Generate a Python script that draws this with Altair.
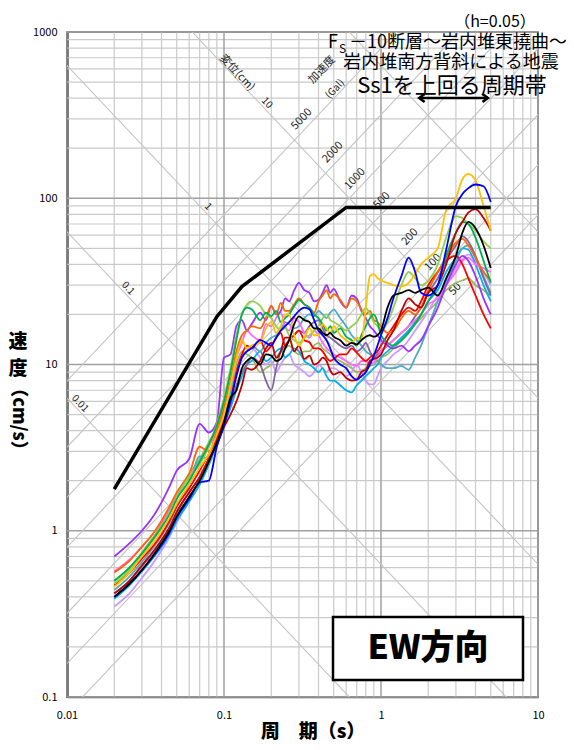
import math
import altair as alt
import pandas as pd

# ---------------- data ----------------
periods = [0.02, 0.025, 0.03, 0.035, 0.04, 0.045, 0.05,
           0.06, 0.07, 0.08, 0.09, 0.1,
           0.11, 0.12, 0.13, 0.14, 0.15, 0.17, 0.185,
           0.2, 0.215, 0.23, 0.245, 0.26, 0.28, 0.3, 0.325, 0.35, 0.375,
           0.4, 0.425, 0.45, 0.475, 0.5, 0.55, 0.6, 0.65, 0.7, 0.75,
           0.8, 0.85, 0.9, 0.95, 1.0, 1.1, 1.2, 1.35, 1.5, 1.65,
           1.8, 2.0, 2.3, 2.6, 3.0,
           3.3, 3.6, 4.0, 4.5, 5.0]

v_purple = [0.70, 0.84, 1.00, 1.20, 1.48, 1.85, 2.30,
            2.70, 4.40, 3.90, 4.50, 11.0,
            11.5, 17.0, 18.5, 16.0, 17.5, 20.5, 18.5,
            22.5, 20.0, 21.0, 25.0, 24.0, 28.0, 31.0, 28.0, 27.0, 24.0,
            24.5, 27.0, 30.0, 27.0, 28.5, 24.0, 22.0, 26.0, 25.0, 21.0,
            19.0, 17.0, 16.0, 15.0, 14.0, 13.0, 12.5, 13.0, 12.0, 13.0,
            14.0, 17.0, 22.0, 30.0, 40.0,
            45.0, 42.0, 34.0, 25.0, 20.0]
v_orange = [0.56, 0.66, 0.80, 0.95, 1.15, 1.40, 1.70,
            2.20, 3.20, 3.00, 4.00, 5.50,
            8.0, 12.0, 15.0, 16.0, 17.0, 16.5, 19.0,
            22.5, 20.0, 23.5, 21.0, 21.0, 23.0, 25.0, 23.0, 22.0, 20.5,
            24.0, 26.0, 28.0, 25.0, 26.5, 24.5, 22.0, 25.0, 24.0, 21.5,
            20.0, 21.0, 18.5, 18.0, 17.0, 15.5, 16.0, 19.0, 21.0, 20.0,
            22.0, 28.0, 36.0, 44.0, 54.0,
            57.0, 52.0, 44.0, 36.0, 32.0]
v_gold = [0.46, 0.56, 0.70, 0.83, 1.00, 1.20, 1.45,
          1.90, 2.40, 2.90, 3.80, 5.00,
          7.5, 11.0, 14.0, 12.5, 13.0, 13.5, 16.5,
          18.0, 15.5, 17.0, 20.0, 20.0, 15.0, 13.0, 14.5, 16.5, 15.0,
          15.0, 17.5, 16.5, 15.5, 17.0, 15.0, 14.0, 13.5, 14.5, 14.0,
          22.0, 34.0, 35.0, 33.0, 32.0, 31.0, 30.0, 29.5, 31.0, 35.0,
          40.0, 44.0, 50.0, 85.0, 100.0,
          130.0, 140.0, 128.0, 90.0, 64.0]
v_darkred = [0.42, 0.50, 0.62, 0.74, 0.88, 1.05, 1.30,
             1.70, 2.10, 2.70, 3.30, 4.20,
             5.0, 6.0, 7.5, 9.5, 9.3, 10.5, 12.5,
             13.5, 11.0, 12.0, 14.5, 14.5, 12.0, 13.0, 10.8, 11.3, 10.0,
             10.3, 11.0, 10.5, 9.2, 8.7, 9.0, 8.3, 8.0, 8.1, 9.0,
             9.3, 10.5, 10.8, 11.0, 11.5, 14.0, 16.0, 21.0, 25.0, 23.0,
             22.0, 27.0, 30.0, 40.0, 62.0,
             72.0, 82.0, 86.0, 76.0, 64.0]
v_black = [0.40, 0.48, 0.58, 0.70, 0.84, 1.00, 1.22,
           1.60, 2.00, 2.60, 3.40, 4.50,
           6.3, 7.0, 9.5, 10.5, 11.0, 10.0, 11.5,
           11.3, 10.5, 10.8, 12.5, 14.0, 17.5, 19.5, 18.5, 18.0, 16.5,
           16.5, 15.5, 15.0, 15.5, 14.7, 14.0, 13.0, 13.5, 13.2, 14.0,
           14.7, 15.0, 14.7, 15.0, 16.0, 22.0, 26.0, 27.0, 28.0, 27.0,
           28.0, 29.0, 26.0, 33.0, 45.0,
           62.0, 72.0, 66.0, 52.0, 38.0]
v_green = [0.50, 0.60, 0.73, 0.88, 1.05, 1.25, 1.55,
           2.00, 2.60, 3.30, 4.30, 6.00,
           9.0, 14.0, 20.0, 22.0, 21.5, 18.5, 20.5,
           19.5, 21.0, 18.0, 19.0, 20.0, 22.5, 24.5, 23.0, 22.0, 20.0,
           19.0, 17.5, 16.0, 17.0, 15.5, 16.5, 14.7, 14.0, 13.0, 15.0,
           17.0, 19.0, 20.0, 18.0, 15.0, 13.5, 13.0, 14.0, 15.5, 17.5,
           20.0, 24.0, 30.0, 45.0, 62.0,
           72.0, 70.0, 58.0, 42.0, 31.0]
v_lightgreen = [0.48, 0.58, 0.72, 0.87, 1.05, 1.28, 1.60,
                2.10, 2.50, 3.20, 4.40, 6.30,
                9.5, 15.0, 20.0, 23.0, 24.0, 22.5, 20.0,
                19.0, 17.0, 16.0, 16.5, 15.0, 14.0, 13.5, 14.5, 15.0, 16.0,
                17.0, 19.0, 20.0, 18.5, 18.0, 17.0, 16.0, 17.0, 18.0, 20.0,
                22.0, 20.0, 18.0, 17.0, 16.0, 18.0, 22.0, 30.0, 36.0, 33.0,
                30.0, 32.0, 40.0, 58.0, 78.0,
                76.0, 70.0, 64.0, 55.0, 50.0]
v_pink = [0.57, 0.67, 0.80, 0.95, 1.12, 1.35, 1.65,
          2.10, 2.60, 3.20, 4.00, 5.20,
          7.5, 11.0, 13.5, 16.0, 15.0, 14.0, 17.5,
          17.0, 19.0, 20.5, 17.0, 16.0, 19.0, 18.0, 15.5, 14.5, 16.0,
          15.0, 13.5, 12.5, 12.0, 11.5, 11.0, 10.5, 10.0, 9.8, 10.5,
          10.5, 10.0, 10.3, 11.0, 12.0, 13.0, 14.0, 15.5, 17.0, 18.5,
          20.0, 23.0, 25.0, 30.0, 36.0,
          42.0, 44.0, 40.0, 38.0, 36.0]
v_red = [0.47, 0.56, 0.68, 0.80, 0.95, 1.15, 1.40,
         1.80, 2.30, 2.90, 3.60, 4.60,
         6.0, 9.0, 11.5, 13.0, 12.5, 14.0, 12.0,
         13.0, 14.5, 15.5, 13.0, 14.0, 15.0, 16.0, 14.0, 13.6, 12.5,
         12.5, 12.0, 11.0, 10.5, 10.8, 11.5, 11.5, 12.5, 11.8, 11.0,
         10.5, 11.0, 11.5, 12.0, 13.0, 15.0, 17.0, 20.0, 22.0, 21.0,
         24.0, 30.0, 36.0, 42.0, 45.0,
         40.0, 33.0, 26.0, 20.0, 16.5]
v_skyblue = [0.39, 0.47, 0.57, 0.68, 0.80, 0.95, 1.15,
             1.50, 1.90, 2.50, 3.30, 4.30,
             5.5, 7.0, 8.5, 10.0, 10.5, 12.0, 10.5,
             11.0, 12.0, 12.5, 11.0, 11.5, 12.5, 12.0, 10.5, 10.0, 9.5,
             9.0, 9.5, 8.5, 8.0, 8.0, 7.5, 7.0, 6.8, 7.5, 8.0,
             8.5, 9.0, 9.5, 10.0, 11.0, 12.0, 13.0, 14.5, 16.0, 18.0,
             20.0, 24.0, 28.0, 36.0, 44.0,
             50.0, 49.0, 40.0, 30.0, 24.0]
v_teal = [0.44, 0.53, 0.65, 0.78, 0.93, 1.12, 1.40,
          1.90, 2.80, 2.70, 3.60, 4.80,
          6.5, 9.0, 11.0, 12.0, 13.0, 12.0, 13.5,
          14.5, 15.0, 16.0, 18.0, 17.5, 16.5, 17.0, 19.0, 20.0, 19.5,
          21.0, 20.0, 19.0, 20.5, 21.4, 19.0, 17.0, 15.0, 14.0, 13.0,
          12.0, 11.5, 11.0, 10.5, 10.0, 9.5, 9.5, 9.8, 9.3, 11.0,
          13.0, 17.0, 24.0, 32.0, 42.0,
          50.0, 52.0, 44.0, 34.0, 27.0]
v_graypurple = [0.42, 0.50, 0.61, 0.73, 0.87, 1.04, 1.28,
                1.70, 2.10, 2.70, 3.40, 4.40,
                5.8, 7.5, 9.0, 10.0, 11.0, 10.0, 8.0,
                7.0, 9.5, 12.0, 13.0, 14.0, 15.0, 16.0, 15.5, 17.0, 18.0,
                18.5, 16.5, 15.0, 14.5, 14.0, 13.0, 12.5, 13.0, 12.0, 12.5,
                13.5, 12.0, 11.0, 11.5, 12.0, 13.0, 14.0, 15.5, 17.0, 19.5,
                22.0, 27.0, 33.0, 42.0, 52.0,
                59.0, 55.0, 45.0, 33.0, 26.0]
v_lavender = [0.35, 0.42, 0.52, 0.63, 0.76, 0.92, 1.12,
              1.50, 1.90, 2.50, 3.30, 4.50,
              6.5, 9.0, 11.0, 12.0, 12.5, 11.0, 10.0,
              10.5, 9.0, 10.0, 11.0, 11.5, 10.0, 9.5, 9.0, 8.5, 9.0,
              10.0, 9.5, 9.0, 9.5, 9.5, 9.0, 8.5, 9.0, 10.0, 9.0,
              8.0, 7.6, 7.6, 8.5, 9.5, 10.5, 11.5, 12.5, 14.0, 16.0,
              18.0, 21.0, 26.0, 30.0, 38.0,
              43.0, 46.0, 42.0, 36.0, 30.0]
v_olive = [0.50, 0.60, 0.74, 0.90, 1.08, 1.30, 1.65,
           2.20, 2.70, 3.40, 4.20, 5.50,
           7.0, 10.0, 12.0, 11.5, 11.0, 9.0, 9.5,
           10.0, 11.0, 12.0, 12.5, 13.0, 12.0, 11.5, 12.0, 12.0, 13.0,
           13.5, 12.5, 12.0, 11.5, 11.0, 10.5, 10.0, 9.5, 9.0, 9.2,
           9.5, 9.8, 10.0, 10.5, 11.0, 11.5, 12.5, 14.0, 16.0, 17.5,
           19.0, 21.0, 24.0, 28.0, 31.0,
           32.0, 33.0, 30.0, 28.0, 26.0]
v_blue = [0.40, 0.48, 0.58, 0.69, 0.82, 0.98, 1.20,
          1.55, 1.95, 2.00, 3.20, 4.30,
          6.0, 8.5, 11.0, 12.0, 12.5, 14.0, 13.5,
          13.0, 14.5, 16.0, 17.0, 18.0, 19.5, 21.0, 22.0, 21.5, 18.5,
          16.0, 15.0, 14.0, 12.5, 11.0, 10.0, 9.5, 8.5, 8.1, 8.5,
          9.0, 10.0, 11.3, 13.0, 15.0, 19.0, 25.0, 34.0, 44.0, 36.0,
          27.0, 26.0, 30.0, 49.0, 90.0,
          106.0, 115.0, 121.0, 118.0, 95.0]

case_names = ["olive", "lavender", "skyblue", "teal", "graypurple", "pink", "red",
              "purple", "orange", "lightgreen", "green", "darkred", "gold", "blue", "black"]
case_colors = ["#9BBB59", "#CC99FF", "#00B0F0", "#4BACC6", "#8064A2", "#FF66FF", "#FF0000",
               "#9933FF", "#FF6600", "#92D050", "#00B050", "#C00000", "#FFC000", "#0000FF", "#000000"]
case_values = [v_olive, v_lavender, v_skyblue, v_teal, v_graypurple, v_pink, v_red,
               v_purple, v_orange, v_lightgreen, v_green, v_darkred, v_gold, v_blue, v_black]

# Ss1 design spectrum
ss1_T = [0.02, 0.09, 0.13, 0.6, 5.0]
ss1_V = [1.78, 19.4, 29.4, 88.0, 88.0]

# tripartite grid
disp_values = [0.01, 0.1, 1, 10, 100]          # cm
acc_values = [50, 100, 200, 500, 1000, 2000, 5000]  # Gal
disp_label_text = ["0.01", "0.1", "1", "10"]
disp_label_T = [0.0121, 0.0245, 0.0792, 0.188]
acc_label_text = ["50", "100", "200", "500", "1000", "2000", "5000"]
acc_label_T = [2.97, 2.15, 1.53, 1.014, 0.684, 0.494, 0.313]

x_ticks = [0.01, 0.1, 1, 10]
y_ticks = [0.1, 1, 10, 100, 1000]
minor_mult = [2, 3, 4, 5, 6, 7, 8, 9]

arrow_T = [1.75, 4.8]

# ---------------- frames ----------------
rows = []
for name, vals in zip(case_names, case_values):
    assert len(vals) == len(periods), name
    for t, v in zip(periods, vals):
        rows.append({"case": name, "T": t, "V": v})
df = pd.DataFrame(rows)
ss1 = pd.DataFrame({"T": ss1_T, "V": ss1_V})

xg_major = pd.DataFrame({"g": x_ticks})
xg_minor = pd.DataFrame({"g": [m * d for d in x_ticks[:-1] for m in minor_mult]})
yg_major = pd.DataFrame({"g": y_ticks})
yg_minor = pd.DataFrame({"g": [m * d for d in y_ticks[:-1] for m in minor_mult]})

two_pi = 2 * math.pi
diag = []
for D in disp_values:
    for t in (0.001, 100.0):
        diag.append({"id": f"D{D}", "T": t, "V": two_pi * D / t})
for A in acc_values:
    for t in (0.001, 100.0):
        diag.append({"id": f"A{A}", "T": t, "V": A * t / two_pi})
diag = pd.DataFrame(diag)

disp_lab = pd.DataFrame({"T": disp_label_T,
                         "V": [two_pi * d / t * 1.12 for d, t in zip(disp_values, disp_label_T)],
                         "txt": disp_label_text})
acc_lab = pd.DataFrame({"T": acc_label_T,
                        "V": [float(a) * t / two_pi * 1.2 for a, t in zip(acc_values, acc_label_T)],
                        "txt": acc_label_text})
arrow = pd.DataFrame({"T": [arrow_T[0]], "T2": [arrow_T[1]]})
arrow_l = pd.DataFrame({"T": [arrow_T[0]]})
arrow_r = pd.DataFrame({"T": [arrow_T[1]]})
one = pd.DataFrame({"a": [0]})

# ---------------- chart ----------------
FONT = "Noto Sans CJK JP"
xs = alt.Scale(type="log", domain=[0.01, 10], nice=False)
ys = alt.Scale(type="log", domain=[0.1, 1000], nice=False)
xax = alt.Axis(values=x_ticks, format="~g", grid=False, ticks=False, labelPadding=12,
               labelFontSize=11, labelFont=FONT, labelColor="black", labelFlush=False,
               domainColor="#555555", domainWidth=1.5, title=None)
yax = alt.Axis(values=y_ticks, format="~g", grid=False, ticks=False, labelPadding=10,
               labelFontSize=11, labelFont=FONT, labelColor="black",
               domainColor="#000000", domainWidth=2, title=None)

vminor = alt.Chart(xg_minor).mark_rule(color="#CACACA", strokeWidth=1.2).encode(
    x=alt.X("g:Q", scale=xs, axis=xax))
vmajor = alt.Chart(xg_major).mark_rule(color="#A0A0A0", strokeWidth=1.5).encode(
    x=alt.X("g:Q", scale=xs, axis=xax))
hminor = alt.Chart(yg_minor).mark_rule(color="#CACACA", strokeWidth=1.2).encode(
    y=alt.Y("g:Q", scale=ys, axis=yax))
hmajor = alt.Chart(yg_major).mark_rule(color="#A0A0A0", strokeWidth=1.5).encode(
    y=alt.Y("g:Q", scale=ys, axis=yax))

diag_lines = alt.Chart(diag).mark_line(color="#C4C4C4", strokeWidth=1.1, clip=True).encode(
    x=alt.X("T:Q", scale=xs, axis=xax), y=alt.Y("V:Q", scale=ys, axis=yax), detail="id:N")

disp_text = alt.Chart(disp_lab).mark_text(angle=46.7, fontSize=10, font=FONT, color="#222222").encode(
    x=alt.X("T:Q", scale=xs, axis=xax), y=alt.Y("V:Q", scale=ys, axis=yax), text="txt:N")
acc_text = alt.Chart(acc_lab).mark_text(angle=313.3, fontSize=11, font=FONT, color="#222222").encode(
    x=alt.X("T:Q", scale=xs, axis=xax), y=alt.Y("V:Q", scale=ys, axis=yax), text="txt:N")

hen_text = alt.Chart(one).mark_text(angle=46.7, fontSize=11, font=FONT, color="#222222").encode(
    x=alt.value(170), y=alt.value(41), text=alt.value("変位(cm)"))
kasoku_text = alt.Chart(one).mark_text(angle=313.3, fontSize=11, font=FONT, color="#222222").encode(
    x=alt.value(255), y=alt.value(38), text=alt.value("加速度"))
gal_text = alt.Chart(one).mark_text(angle=313.3, fontSize=10, font=FONT, color="#222222").encode(
    x=alt.value(268), y=alt.value(57), text=alt.value("(Gal)"))

curves = alt.Chart(df).mark_line(strokeWidth=1.8, interpolate="monotone", clip=True).encode(
    x=alt.X("T:Q", scale=xs, axis=xax),
    y=alt.Y("V:Q", scale=ys, axis=yax),
    color=alt.Color("case:N", scale=alt.Scale(domain=case_names, range=case_colors), legend=None),
    detail="case:N",
)

ss1_line = alt.Chart(ss1).mark_line(color="black", strokeWidth=3.5).encode(
    x=alt.X("T:Q", scale=xs, axis=xax), y=alt.Y("V:Q", scale=ys, axis=yax))

# header texts
h_text = alt.Chart(one).mark_text(fontSize=16, font=FONT, color="black").encode(
    x=alt.value(428), y=alt.value(-10), text=alt.value("（h=0.05）"))
f_text = alt.Chart(one).mark_text(fontSize=18, font=FONT, color="black", align="left").encode(
    x=alt.value(261), y=alt.value(11), text=alt.value("F"))
s_text = alt.Chart(one).mark_text(fontSize=12, font=FONT, color="black", align="left").encode(
    x=alt.value(272), y=alt.value(17), text=alt.value("S"))
l2_text = alt.Chart(one).mark_text(fontSize=18, font=FONT, color="black", align="left").encode(
    x=alt.value(282), y=alt.value(11), text=alt.value("－10断層～岩内堆東撓曲～"))
l3_text = alt.Chart(one).mark_text(fontSize=18, font=FONT, color="black").encode(
    x=alt.value(384), y=alt.value(31), text=alt.value("岩内堆南方背斜による地震"))
l4_text = alt.Chart(one).mark_text(fontSize=22, font=FONT, color="black").encode(
    x=alt.value(385), y=alt.value(54), text=alt.value("Ss1を上回る周期帯"))

arrow_line = alt.Chart(arrow).mark_rule(color="black", strokeWidth=2.5).encode(
    x=alt.X("T:Q", scale=xs, axis=xax), x2="T2:Q", y=alt.value(66))
arrow_head_l = alt.Chart(arrow_l).mark_point(
    shape="M1,-0.75L0,0L1,0.75", filled=False, size=120, color="black", strokeWidth=2.5, opacity=1).encode(
    x=alt.X("T:Q", scale=xs, axis=xax), y=alt.value(66))
arrow_head_r = alt.Chart(arrow_r).mark_point(
    shape="M-1,-0.75L0,0L-1,0.75", filled=False, size=120, color="black", strokeWidth=2.5, opacity=1).encode(
    x=alt.X("T:Q", scale=xs, axis=xax), y=alt.value(66))

# EW box
ew_box = alt.Chart(one).mark_rect(fill="white", stroke="black", strokeWidth=2.5).encode(
    x=alt.value(266), x2=alt.value(456), y=alt.value(585), y2=alt.value(648))
ew_text = alt.Chart(one).mark_text(fontSize=34, font=FONT, fontWeight=900, color="black").encode(
    x=alt.value(361), y=alt.value(617), text=alt.value("EW方向"))

# axis titles
xt = alt.Chart(one).mark_text(fontSize=19, font=FONT, fontWeight=900, color="black").encode(
    x=alt.value(246), y=alt.value(700), text=alt.value("周　期（s）"))
yt1 = alt.Chart(one).mark_text(fontSize=19, font=FONT, fontWeight=900, color="black").encode(
    x=alt.value(-49), y=alt.value(310), text=alt.value("速"))
yt2 = alt.Chart(one).mark_text(fontSize=19, font=FONT, fontWeight=900, color="black").encode(
    x=alt.value(-49), y=alt.value(337), text=alt.value("度"))
yt3 = alt.Chart(one).mark_text(fontSize=18, font=FONT, fontWeight=900, color="black", angle=90).encode(
    x=alt.value(-49), y=alt.value(387), text=alt.value("（cm/s）"))

chart = alt.layer(
    vminor, hminor, vmajor, hmajor, diag_lines, disp_text, acc_text, hen_text, kasoku_text, gal_text,
    curves, ss1_line, h_text, f_text, s_text, l2_text, l3_text, l4_text,
    arrow_line, arrow_head_l, arrow_head_r, ew_box, ew_text, xt, yt1, yt2, yt3,
).properties(
    width=471, height=665, autosize="none",
    padding={"left": 59, "top": 24, "right": 28, "bottom": 45},
).configure_view(stroke="#555555", strokeWidth=1.5)

chart.save("out.html", embed_options={"renderer": "svg", "actions": False})
